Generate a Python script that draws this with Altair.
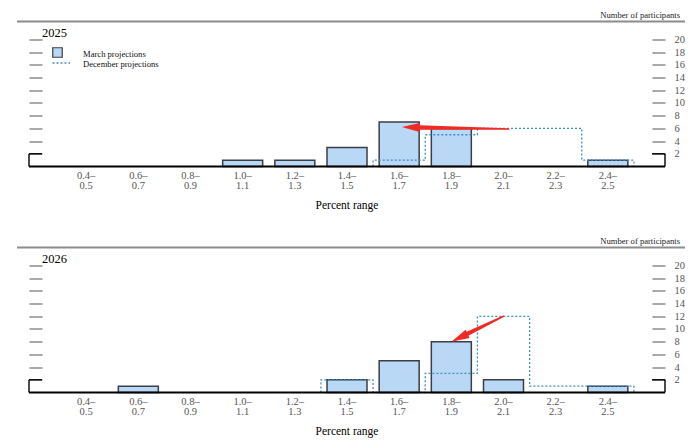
import math
import altair as alt
import pandas as pd

# ---------------- data ----------------
bin_low = ["0.4–", "0.6–", "0.8–", "1.0–", "1.2–", "1.4–", "1.6–", "1.8–", "2.0–", "2.2–", "2.4–"]
bin_high = ["0.5", "0.7", "0.9", "1.1", "1.3", "1.5", "1.7", "1.9", "2.1", "2.3", "2.5"]
march_2025 = [0, 0, 0, 1, 1, 3, 7, 6, 0, 0, 1]
december_2025 = [0, 0, 0, 0, 0, 0, 1, 5, 6, 6, 1]
march_2026 = [0, 1, 0, 0, 0, 2, 5, 8, 2, 0, 1]
december_2026 = [0, 0, 0, 0, 0, 2, 0, 3, 12, 1, 1]
y_ticks = [2, 4, 6, 8, 10, 12, 14, 16, 18, 20]
years = ["2025", "2026"]
# annotation arrows: (bin position, participants) start -> tip
arrow_2025 = [(8.1, 5.9), (6.05, 6.2)]
arrow_2026 = [(8.0, 12.0), (7.0, 8.0)]
legend_labels = ["March projections", "December projections"]
y_unit_label = "Number of participants"
x_title = "Percent range"

# ---------------- layout / style ----------------
W = 636
H = 145
YMAX = 22.83
XU = W / 12.0
YU = H / YMAX
SERIF = "Liberation Serif"
BAR_FILL = "#b9d8f5"
BAR_STROKE = "#3a3e46"
DEC_COLOR = "#3f8cc6"
RED = "#ee2b24"
GRAY = "#8c8c8c"
LABEL_GRAY = "#555555"

xs = alt.Scale(domain=[-1, 11], nice=False, zero=False)
ys = alt.Scale(domain=[0, YMAX], nice=False, zero=True)
X_NONE = dict(scale=xs, axis=None)
ARROW_HEAD = "M0,0L-0.5,2L0.5,2Z"

one = pd.DataFrame({"a": [0]})


def text_layer(txt, x, y, size, color="#000000", align="left", baseline="middle"):
    return alt.Chart(pd.DataFrame({"t": [txt]})).mark_text(
        font=SERIF, fontSize=size, color=color, align=align, baseline=baseline
    ).encode(x=alt.value(x), y=alt.value(y), text="t:N")


def step_points(counts):
    nz = [i for i, c in enumerate(counts) if c > 0]
    a, b = nz[0], nz[-1]
    xs_, ys_ = [a - 0.5], [0]
    for i in range(a, b + 1):
        xs_ += [i - 0.5, i + 0.5]
        ys_ += [counts[i], counts[i]]
    xs_.append(b + 0.5)
    ys_.append(0)
    return pd.DataFrame({"x": xs_, "y": ys_, "ord": list(range(len(xs_)))})


def arrow_layers(arrow):
    (x0, y0), (x1, y1) = arrow
    dx = (x1 - x0) * XU
    dy = -(y1 - y0) * YU
    L = math.hypot(dx, dy)
    ux, uy = dx / L, dy / L
    head = 17.0
    bx = x1 - ux * head / XU
    by = y1 + uy * head / YU
    angle = (math.degrees(math.atan2(ux, -uy)) + 360) % 360
    shaft = pd.DataFrame({"x": [x0, bx], "y": [y0, by], "w": [1.5, 4.5], "ord": [0, 1]})
    trail = alt.Chart(shaft).mark_trail(color=RED).encode(
        x=alt.X("x:Q", **X_NONE),
        y=alt.Y("y:Q", scale=ys, axis=None),
        size=alt.Size("w:Q", scale=None, legend=None),
        order="ord:O",
    )
    tip = pd.DataFrame({"x": [x1], "y": [y1]})
    headm = alt.Chart(tip).mark_point(
        shape=ARROW_HEAD, filled=True, color=RED, opacity=1, size=(2 * 9) ** 2, angle=angle, strokeWidth=0
    ).encode(x=alt.X("x:Q", **X_NONE), y=alt.Y("y:Q", scale=ys, axis=None))
    return [trail, headm]


def panel(year, march, dec, arrow, with_legend):
    layers = []
    # top gray rule and unit label
    layers.append(alt.Chart(one).mark_rule(color=GRAY, strokeWidth=2).encode(
        x=alt.value(-12), x2=alt.value(656), y=alt.value(0)))
    layers.append(text_layer(y_unit_label, 651, -7, 8.6, color="#222222", align="right"))

    bars_df = pd.DataFrame({"i": list(range(len(march))), "n": march})
    bars_df = bars_df[bars_df["n"] > 0]
    left_axis = alt.Axis(orient="left", values=y_ticks, labels=False, domain=False, grid=False,
                         tickSize=13, offset=-13, tickColor=GRAY, tickWidth=1.5, title=None)
    right_axis = alt.Axis(orient="right", values=y_ticks, domain=False, grid=False,
                          tickSize=13, offset=-13, tickColor=GRAY, tickWidth=1.5, title=None,
                          labelPadding=9, labelFont=SERIF, labelFontSize=10.5, labelColor=LABEL_GRAY)
    layers.append(alt.Chart(bars_df).mark_bar(size=40, fill=BAR_FILL, stroke=BAR_STROKE, strokeWidth=1.5).encode(
        x=alt.X("i:Q", **X_NONE),
        y=alt.Y("n:Q", scale=ys, axis=left_axis),
        y2=alt.Y2(datum=0),
    ))
    layers.append(alt.Chart(step_points(dec)).mark_line(
        color=DEC_COLOR, strokeWidth=1.3, strokeDash=[2, 2], interpolate="linear").encode(
        x=alt.X("x:Q", **X_NONE),
        y=alt.Y("y:Q", scale=ys, axis=right_axis),
        order="ord:O",
    ))
    # baseline and brackets
    layers.append(alt.Chart(one).mark_rule(color="#000000", strokeWidth=2).encode(
        x=alt.value(0), x2=alt.value(W), y=alt.Y(datum=0, scale=ys, axis=None)))
    for xa, xb in [(0, 13), (W - 13, W)]:
        layers.append(alt.Chart(one).mark_rule(color="#000000", strokeWidth=1.4).encode(
            x=alt.value(xa), x2=alt.value(xb), y=alt.Y(datum=2, scale=ys, axis=None)))
    for xv in [0, W]:
        layers.append(alt.Chart(one).mark_rule(color="#000000", strokeWidth=1.4).encode(
            x=alt.value(xv), y=alt.Y(datum=0, scale=ys, axis=None), y2=alt.Y2(datum=2)))
    # arrow
    layers += arrow_layers(arrow)
    # x labels
    lab_df = pd.DataFrame({"i": list(range(len(bin_low))), "lo": bin_low, "hi": bin_high})
    for col, yy in [("lo", H + 9), ("hi", H + 19.5)]:
        layers.append(alt.Chart(lab_df).mark_text(
            font=SERIF, fontSize=10.5, color=LABEL_GRAY, baseline="middle").encode(
            x=alt.X("i:Q", **X_NONE), y=alt.value(yy), text=f"{col}:N"))
    layers.append(text_layer(x_title, W / 2, H + 39, 11.5, align="center"))
    # year
    layers.append(text_layer(year, 13, 15, 12.5, baseline="alphabetic"))
    if with_legend:
        layers.append(alt.Chart(one).mark_point(
            shape="square", filled=True, fill=BAR_FILL, stroke=BAR_STROKE, strokeWidth=1.2,
            opacity=1, size=90).encode(x=alt.value(28.5), y=alt.value(31)))
        layers.append(alt.Chart(one).mark_rule(color=DEC_COLOR, strokeWidth=1.3, strokeDash=[2, 2]).encode(
            x=alt.value(23.5), x2=alt.value(41), y=alt.value(41.5)))
        layers.append(text_layer(legend_labels[0], 54, 32, 8.6, color="#111111"))
        layers.append(text_layer(legend_labels[1], 54, 42, 8.6, color="#111111"))
    return alt.layer(*layers).properties(width=W, height=H).resolve_scale(y="shared").resolve_axis(y="independent")


p1 = panel(years[0], march_2025, december_2025, arrow_2025, True)
p2 = panel(years[1], march_2026, december_2026, arrow_2026, False)

chart = alt.vconcat(p1, p2, spacing=81, bounds="flush").properties(
    padding={"left": 8, "top": 2.5, "right": 4, "bottom": 0}
).configure_view(stroke=None)

chart.save("out.html", embed_options={"renderer": "svg", "actions": False})
